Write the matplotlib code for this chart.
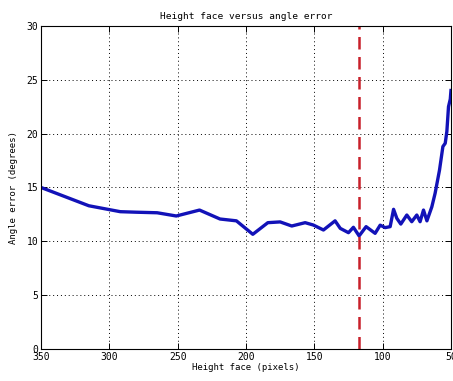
import numpy as np
import matplotlib.pyplot as plt

# Data
height = [350, 315, 292, 280, 265, 251, 234, 219, 207, 195, 184, 175, 166.5, 156.7,
          150.7, 143.3, 134.8, 131, 125, 121.4, 117.2, 112.1, 105.5, 101.8, 98.2,
          94.5, 92, 89.6, 86.7, 82.3, 78.7, 75, 72.6, 70.1, 67.6, 64, 61.6, 58.4,
          55.9, 54.2, 53, 51.8, 50.5, 50]
error = [15, 13.3, 12.75, 12.7, 12.65, 12.35, 12.9, 12.07, 11.9, 10.65, 11.73, 11.8,
         11.42, 11.73, 11.51, 11.05, 11.9, 11.2, 10.8, 11.3, 10.5, 11.36, 10.74, 11.5,
         11.27, 11.36, 12.97, 12.13, 11.6, 12.44, 11.82, 12.44, 11.82, 12.9, 11.9, 13.2,
         14.46, 16.6, 18.8, 19.1, 20.2, 22.5, 23.2, 24]
threshold = 117

plt.rc('font', family='DejaVu Sans Mono', size=7)

fig = plt.figure(figsize=(4.53, 3.81), dpi=100)
ax = fig.add_axes([0.0905, 0.084, 0.905, 0.848])

ax.plot(height, error, color='#1212b8', linewidth=2.4)
ax.axvline(threshold, color='#c8202a', linestyle=(0, (5, 3)), linewidth=1.8)

ax.set_xlim(350, 50)
ax.set_ylim(0, 30)
ax.set_xticks([350, 300, 250, 200, 150, 100, 50])
ax.set_yticks([0, 5, 10, 15, 20, 25, 30])
ax.grid(True, color='black', linestyle=(0, (1, 3)), linewidth=0.7)
ax.tick_params(direction='in', length=4, width=0.7, pad=2, top=True, right=True)
for s in ax.spines.values():
    s.set_linewidth(0.8)

ax.set_xlabel('Height face (pixels)', fontsize=6.5, labelpad=1)
ax.set_ylabel('Angle error (degrees)', fontsize=6.5, labelpad=6)
ax.set_title('Height face versus angle error', fontsize=6.8, pad=5)

plt.savefig('out.png', dpi=100)
